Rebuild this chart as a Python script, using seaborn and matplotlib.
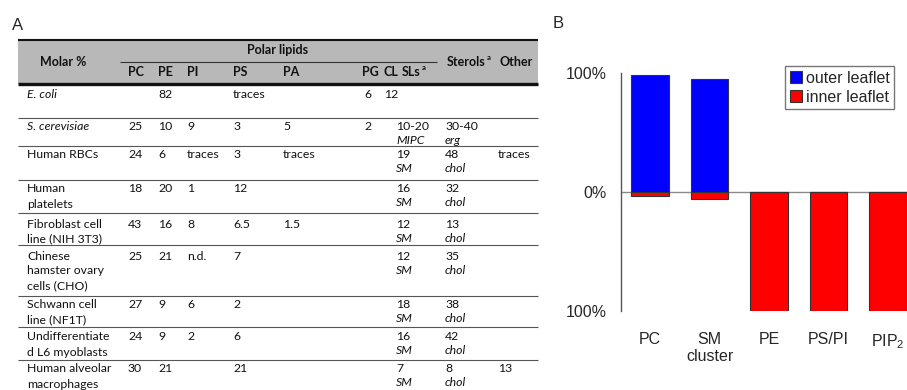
import matplotlib
matplotlib.use("Agg")
import matplotlib.pyplot as plt
import pandas as pd
import seaborn as sns
from matplotlib.patches import Rectangle
from matplotlib.ticker import MultipleLocator

# --- Panel B: leaflet distribution ---
LIPIDS = ["PC", "SM\ncluster", "PE", "PS/PI", "PIP$_2$"]
OUTER = [98, 95, 0, 0, 0]
INNER = [3, 6, 100, 100, 100]
PALETTE = {"outer leaflet": "#0000ff", "inner leaflet": "#ff0000"}

# --- Panel A: lipid composition table ---
ROW_NAMES = [
    ["E. coli"],
    ["S. cerevisiae"],
    ["Human RBCs"],
    ["Human", "platelets"],
    ["Fibroblast cell", "line (NIH 3T3)"],
    ["Chinese", "hamster ovary", "cells (CHO)"],
    ["Schwann cell", "line (NF1T)"],
    ["Undifferentiate", "d L6 myoblasts"],
    ["Human alveolar", "macrophages"],
]
ITALIC_ROWS = [0, 1]
PC = ["", "25", "24", "18", "43", "25", "27", "24", "30"]
PE = ["82", "10", "6", "20", "16", "21", "9", "9", "21"]
PI = ["", "9", "traces", "1", "8", "n.d.", "6", "2", ""]
PS = ["traces", "3", "3", "12", "6.5", "7", "2", "6", "21"]
PA = ["", "5", "traces", "", "1.5", "", "", "", ""]
PG = ["6", "2", "", "", "", "", "", "", ""]
CL = ["12", "", "", "", "", "", "", "", ""]
SLS = ["", "10-20", "19", "16", "12", "12", "18", "16", "7"]
SLS_KIND = ["", "MIPC", "SM", "SM", "SM", "SM", "SM", "SM", "SM"]
STEROLS = ["", "30-40", "48", "32", "13", "35", "38", "42", "8"]
STEROL_KIND = ["", "erg", "chol", "chol", "chol", "chol", "chol", "chol", "chol"]
OTHER = ["", "", "traces", "", "", "", "", "", "13"]
POLAR_HEADERS = ["PC", "PE", "PI", "PS", "PA", "PG", "CL", "SLs"]

# table layout in pixels (figure is 907x390)
COL_X = [128, 158, 187, 233, 283, 364, 384, 396, 445, 498]
HEAD_X = [128, 158, 187, 233, 283, 362, 384, 402, 447, 499]
ROW_TOP = [94, 127, 155, 189, 224, 256, 305, 337, 369]
ROW_SEP = [118, 146, 180, 213, 245, 296, 327, 360]
LINE_STEP = 15
TABLE_FONT = "Lato"
CHART_FONT = "Liberation Sans"


def text_right(ax, x, y, s, **kw):
    """Draw a text and return its right edge in data units."""
    t = ax.text(x, y, s, **kw)
    r = ax.figure.canvas.get_renderer()
    bb = t.get_window_extent(renderer=r)
    return ax.transData.inverted().transform((bb.x1, bb.y0))[0]


def draw_table(tab):
    tab.set_xlim(0, 907)
    tab.set_ylim(390, 0)
    tab.axis("off")

    base = dict(family=TABLE_FONT, fontsize=8.8, va="center", ha="left", color="#111111")
    head = dict(base, fontsize=9, fontweight="bold")

    # header band and rules
    tab.add_patch(Rectangle((18, 39), 520, 45, facecolor="#b8b8b8", lw=0))
    tab.hlines(39.5, 18, 538, color="#111111", lw=1.5)
    tab.hlines(83.5, 18, 538, color="#111111", lw=2.4)
    tab.hlines(62, 120, 437, color="#333333", lw=0.8)
    tab.hlines(ROW_SEP, 18, 538, color="#555555", lw=0.8)

    tab.text(63, 62, "Molar %", **dict(head, ha="center"))
    tab.text(278, 50, "Polar lipids", **dict(head, ha="center"))
    for x, h in zip(HEAD_X, POLAR_HEADERS):
        right = text_right(tab, x, 72, h, **head)
        if h == "SLs":
            tab.text(right + 1, 67, "a", **dict(head, fontsize=5.5))
    right = text_right(tab, HEAD_X[8], 62, "Sterols", **head)
    tab.text(right + 1, 57, "a", **dict(head, fontsize=5.5))
    tab.text(HEAD_X[9], 62, "Other", **head)

    columns = [PC, PE, PI, PS, PA, PG, CL, SLS, STEROLS, OTHER]
    for i, names in enumerate(ROW_NAMES):
        y0 = ROW_TOP[i]
        style = "italic" if i in ITALIC_ROWS else "normal"
        for k, line in enumerate(names):
            tab.text(27, y0 + k * LINE_STEP, line, style=style, **base)
        for x, col in zip(COL_X, columns):
            if col[i]:
                tab.text(x, y0, col[i], **base)
        if SLS_KIND[i]:
            tab.text(COL_X[7], y0 + LINE_STEP - 1, SLS_KIND[i], style="italic", **base)
        if STEROL_KIND[i]:
            tab.text(COL_X[8], y0 + LINE_STEP - 1, STEROL_KIND[i], style="italic", **base)


def draw_leaflets(ax):
    df = pd.DataFrame({
        "lipid": LIPIDS * 2,
        "leaflet": ["outer leaflet"] * len(LIPIDS) + ["inner leaflet"] * len(LIPIDS),
        "value": OUTER + [-v for v in INNER],
    })
    ax.axhline(0, color="#8a8a8a", lw=1, zorder=0)
    sns.barplot(data=df, x="lipid", y="value", hue="leaflet", dodge=False,
                palette=PALETTE, saturation=1, width=0.63, edgecolor="#333333",
                linewidth=0.8, ax=ax)

    ax.set_xlim(-0.49, 4.32)
    ax.set_ylim(-100, 100)
    ax.set_xlabel("")
    ax.set_ylabel("")
    ax.set_yticks([-100, 0, 100])
    ax.set_yticklabels(["100%", "0%", "100%"])
    ax.yaxis.set_minor_locator(MultipleLocator(20))
    ax.tick_params(axis="y", which="major", direction="inout", length=4,
                   width=0.8, color="#555555", pad=8, labelsize=11.5)
    ax.tick_params(axis="y", which="minor", direction="in", length=2,
                   width=0.8, color="#555555")
    ax.tick_params(axis="x", length=0, pad=15, labelsize=11.5)
    for side in ["top", "right", "bottom"]:
        ax.spines[side].set_visible(False)
    ax.spines["left"].set_color("#555555")
    ax.spines["left"].set_linewidth(1)

    handles, labels = ax.get_legend_handles_labels()
    ax.legend(handles, labels, loc="upper left", bbox_to_anchor=(0.573, 1.03),
              fontsize=11.5, frameon=True, fancybox=False, edgecolor="#555555",
              borderpad=0.3, handlelength=0.8, handleheight=0.8,
              handletextpad=0.2, labelspacing=0.25, borderaxespad=0)
    ax.get_legend().get_frame().set_linewidth(1)


def main():
    sns.set_style("white")
    plt.rcParams["font.family"] = [CHART_FONT, "DejaVu Sans"]
    plt.rcParams["mathtext.fontset"] = "custom"
    plt.rcParams["mathtext.rm"] = CHART_FONT
    plt.rcParams["mathtext.it"] = CHART_FONT + ":italic"

    fig = plt.figure(figsize=(9.07, 3.9), dpi=100)
    tab = fig.add_axes([0, 0, 1, 1])
    draw_table(tab)

    ax = fig.add_axes([621 / 907, 79 / 390, 286 / 907, 238 / 390])
    ax.patch.set_alpha(0)
    draw_leaflets(ax)

    fig.text(12 / 907, 1 - 25 / 390, "A", fontsize=12, va="center")
    fig.text(553 / 907, 1 - 24 / 390, "B", fontsize=12, va="center")

    fig.savefig("out.png", dpi=100)
    plt.close(fig)


if __name__ == "__main__":
    main()
